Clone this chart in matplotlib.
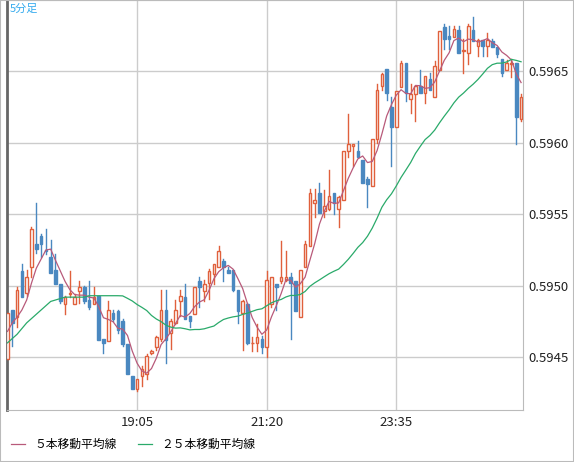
import numpy as np
import pandas as pd
import matplotlib
matplotlib.use("Agg")
import matplotlib.pyplot as plt
from matplotlib.patches import Rectangle
from matplotlib.lines import Line2D

plt.rcParams['font.family'] = ['Noto Sans CJK JP', 'DejaVu Sans']

# === data: 5-minute candles, prices as pips above 0.5940 ===
base = 0.5940
opens = [4.9, 8.3, 7.8, 11.0, 9.5, 11.3, 12.9, 13.5, 12.5, 12.0, 11.1, 10.1, 8.7, 9.4, 8.7, 9.6, 9.9, 9.0, 8.7, 9.3,
         6.3, 6.1, 8.1, 8.2, 7.5, 5.9, 3.7, 2.8, 3.7, 3.8, 5.3, 5.7, 6.3, 8.3, 6.7, 7.4, 8.9, 9.2, 7.9, 8.0,
         10.3, 9.6, 10.2, 10.8, 11.3, 11.7, 11.1, 11.1, 9.7, 8.1, 8.7, 6.0, 6.0, 6.3, 5.7, 8.7, 10.1, 10.3, 10.4, 10.6,
         10.3, 7.8, 11.3, 12.8, 15.8, 16.5, 15.2, 15.4, 16.5, 15.4, 16.0, 19.4, 19.8, 19.4, 18.8, 17.5, 17.0, 20.3, 24.0, 25.2,
         22.5, 21.1, 23.9, 25.6, 23.1, 23.4, 24.0, 23.5, 24.5, 23.2, 25.1, 28.1, 27.5, 27.4, 27.9, 26.4, 26.3, 27.9, 26.8, 27.2,
         26.8, 27.1, 26.7, 25.9, 25.1, 25.5, 25.6, 21.7]
highs = [8.1, 8.3, 9.9, 11.5, 11.1, 14.1, 15.8, 13.6, 14.0, 13.2, 12.2, 10.1, 9.3, 11.0, 9.4, 10.3, 10.0, 10.3, 9.9, 9.3,
         6.3, 8.9, 8.3, 8.3, 7.7, 5.9, 3.7, 3.5, 4.4, 5.2, 5.5, 6.5, 9.7, 9.7, 7.7, 9.0, 9.7, 10.1, 7.9, 9.9,
         10.6, 10.4, 11.2, 11.5, 12.8, 11.9, 11.3, 11.1, 9.7, 9.0, 8.8, 6.4, 7.3, 6.5, 11.0, 10.6, 10.1, 13.1, 12.4, 10.9,
         10.3, 11.1, 13.1, 16.8, 16.8, 17.2, 16.7, 18.1, 16.5, 16.3, 19.4, 22.0, 19.9, 20.1, 18.8, 17.6, 20.3, 24.1, 24.9, 25.2,
         23.2, 23.6, 25.7, 25.6, 24.1, 24.0, 25.1, 24.7, 24.9, 25.7, 27.8, 28.3, 28.2, 28.2, 28.2, 27.3, 28.3, 28.8, 27.3, 27.2,
         27.7, 27.3, 26.7, 25.9, 25.8, 25.9, 25.6, 23.4]
lows = [4.9, 5.8, 7.1, 9.2, 9.3, 10.6, 12.3, 12.0, 12.2, 10.9, 10.1, 8.8, 8.0, 9.2, 8.7, 8.8, 8.8, 8.4, 8.7, 6.2,
        5.3, 6.1, 7.5, 6.7, 5.8, 3.8, 2.8, 2.6, 3.0, 3.5, 5.2, 5.5, 6.1, 4.6, 5.6, 7.3, 7.9, 7.7, 7.1, 8.0,
        8.5, 8.9, 9.1, 10.1, 11.3, 10.3, 10.9, 9.6, 7.4, 5.5, 5.9, 5.4, 5.4, 5.3, 5.0, 8.5, 8.3, 10.2, 10.3, 6.3,
        8.2, 7.8, 11.3, 12.8, 14.8, 15.1, 14.8, 15.3, 15.0, 14.1, 16.0, 19.0, 18.4, 19.0, 17.2, 15.5, 17.0, 20.0, 23.7, 23.0,
        18.4, 21.1, 23.9, 22.9, 22.1, 21.5, 23.5, 22.8, 23.7, 23.2, 25.1, 26.6, 26.6, 27.4, 26.3, 24.9, 25.5, 27.1, 26.1, 26.1,
        26.1, 26.7, 26.0, 24.7, 25.1, 24.6, 19.9, 21.5]
closes = [8.1, 7.4, 9.7, 9.2, 10.6, 14.0, 12.6, 12.9, 12.4, 10.9, 10.1, 8.9, 9.2, 9.5, 9.2, 9.9, 8.9, 8.5, 9.2, 6.2,
          6.0, 8.3, 7.7, 6.9, 5.9, 3.8, 2.8, 3.5, 4.2, 5.1, 5.4, 6.4, 8.3, 6.2, 7.5, 8.3, 9.3, 7.7, 7.5, 9.9,
          9.9, 10.1, 11.0, 11.5, 12.4, 11.3, 10.9, 9.7, 8.2, 8.9, 6.0, 6.0, 6.4, 5.7, 10.4, 10.6, 9.9, 10.6, 10.6, 10.2,
          8.2, 11.1, 12.9, 16.5, 16.0, 15.1, 15.6, 16.3, 15.8, 16.2, 19.4, 19.9, 19.9, 19.0, 17.2, 17.1, 20.3, 23.7, 24.8, 23.5,
          21.1, 23.6, 25.6, 23.5, 23.4, 24.0, 23.5, 24.7, 23.7, 25.4, 27.8, 27.3, 27.3, 28.0, 26.3, 26.5, 28.2, 27.1, 27.2, 26.8,
          27.2, 26.7, 26.2, 24.9, 25.6, 25.6, 21.8, 23.2]
# averages that include candles before the visible window
ma5_head = [6.8, 7.4, 7.8, 8.3]
ma25_head = [6.0, 6.3, 6.6, 7.0, 7.4, 7.7, 8.0, 8.3, 8.6, 8.9, 9.0, 9.1, 9.2, 9.2, 9.2, 9.2, 9.2, 9.3, 9.3, 9.3,
             9.3, 9.3, 9.3, 9.3]
tick_idx = [27, 54, 81]
tick_labels = ["19:05", "21:20", "23:35"]
price_ticks = [0.5945, 0.5950, 0.5955, 0.5960, 0.5965]

df = pd.DataFrame({"o": opens, "h": highs, "l": lows, "c": closes}) * 1e-4 + base
ma5 = df["c"].rolling(5, min_periods=1).mean()
ma25 = df["c"].rolling(25, min_periods=1).mean()
ma5.iloc[:len(ma5_head)] = np.array(ma5_head) * 1e-4 + base
ma25.iloc[:len(ma25_head)] = np.array(ma25_head) * 1e-4 + base

UP = "#e0603c"
DOWN = "#4a88c0"
MA5_C = "#b85a7a"
MA25_C = "#2aaa6a"

fig = plt.figure(figsize=(5.74, 4.62), dpi=100)
ax = fig.add_axes([7 / 574, 1 - 410 / 462, 516 / 574, 410 / 462])

w = 0.55
for i, r in df.iterrows():
    up = r.c >= r.o
    col = UP if up else DOWN
    lo, hi = min(r.o, r.c), max(r.o, r.c)
    ax.plot([i, i], [r.l, lo], color=col, lw=1, zorder=2)
    ax.plot([i, i], [hi, r.h], color=col, lw=1, zorder=2)
    ax.add_patch(Rectangle((i - w / 2, lo), w, max(hi - lo, 2e-6),
                           facecolor="white" if up else col, edgecolor=col, lw=1, zorder=3))

ax.plot(df.index, ma5, color=MA5_C, lw=0.9, zorder=4)
ax.plot(df.index, ma25, color=MA25_C, lw=0.9, zorder=4)

ax.set_xlim(-0.1, 107.4)
ax.set_ylim(0.59413, 0.59700)
ax.set_xticks(tick_idx)
ax.set_xticklabels(tick_labels)
ax.set_yticks(price_ticks)
ax.set_yticklabels([f"{p:.4f}" for p in price_ticks])
ax.yaxis.tick_right()
ax.tick_params(length=0, labelsize=9.5, colors="#222222", pad=4)
ax.grid(True, color="#cccccc", lw=1)
ax.set_axisbelow(True)
for s in ["top", "right", "bottom"]:
    ax.spines[s].set_color("#bbbbbb")
ax.spines["left"].set_color("#666666")
ax.spines["left"].set_linewidth(2)

ax.text(0.005, 0.992, "5分足", transform=ax.transAxes, ha="left", va="top",
        color="#33aaee", fontsize=8)

handles = [Line2D([], [], color=MA5_C, lw=0.9), Line2D([], [], color=MA25_C, lw=0.9)]
fig.legend(handles, ["５本移動平均線", "２５本移動平均線"], loc="lower left",
           bbox_to_anchor=(0.0, 0.0), ncol=2, frameon=False, fontsize=8.5,
           handlelength=1.2, columnspacing=1.8)

fig.patches.append(Rectangle((0, 0), 1, 1, transform=fig.transFigure, fill=False,
                             edgecolor="#bbbbbb", lw=1.5))
fig.savefig("out.png", dpi=100)
